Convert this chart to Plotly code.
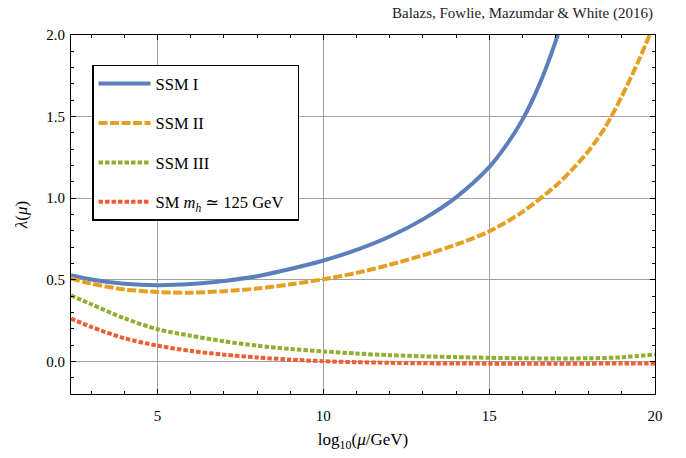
import plotly.graph_objects as go

# ---- data ----
ssm1_x = [2.39, 3, 4, 5, 6, 7, 8, 9, 10, 11, 12, 13, 14, 15, 15.5, 16, 16.5, 17, 17.5]
ssm1_y = [0.528, 0.502, 0.476, 0.467, 0.474, 0.493, 0.522, 0.566, 0.618, 0.683, 0.765, 0.87, 1.005, 1.19, 1.32, 1.48, 1.69, 1.96, 2.3]

ssm2_x = [2.39, 3, 4, 5, 6, 7, 8, 9, 10, 11, 12, 13, 14, 15, 16, 17, 17.5, 18, 18.5, 19, 19.5, 20]
ssm2_y = [0.508, 0.476, 0.441, 0.425, 0.421, 0.43, 0.446, 0.472, 0.503, 0.542, 0.592, 0.65, 0.715, 0.797, 0.915, 1.075, 1.175, 1.29, 1.435, 1.625, 1.84, 2.08]

ssm3_x = [2.39, 3, 4, 5, 6, 7, 8, 9, 10, 11, 12, 13, 14, 15, 16, 17, 18, 19, 20]
ssm3_y = [0.404, 0.35, 0.264, 0.197, 0.157, 0.123, 0.096, 0.076, 0.061, 0.048, 0.038, 0.031, 0.026, 0.022, 0.019, 0.018, 0.019, 0.025, 0.042]

sm_x = [2.39, 3, 4, 5, 6, 7, 8, 9, 10, 11, 12, 13, 14, 15, 16, 17, 18, 19, 20]
sm_y = [0.262, 0.211, 0.142, 0.096, 0.064, 0.041, 0.024, 0.011, 0.001, -0.005, -0.009, -0.012, -0.013, -0.014, -0.014, -0.014, -0.014, -0.013, -0.013]

series_names = ["SSM I", "SSM II", "SSM III", "SM <i>m<sub>h</sub></i> ≃ 125 GeV&nbsp;&nbsp;"]
x_ticks = [5, 10, 15, 20]
y_ticks = [0.0, 0.5, 1.0, 1.5, 2.0]
y_ticklabels = ["0.0", "0.5", "1.0", "1.5", "2.0"]

# ---- styling ----
colors = ["#5b7fbc", "#e5a024", "#8db032", "#ee5f36"]
dashes = ["solid", "9px,2.5px", "4.5px,2px", "4.5px,2px"]
FONT = "Liberation Serif, Times New Roman, DejaVu Serif, serif"

fig = go.Figure()
for i, (xs, ys) in enumerate([(ssm1_x, ssm1_y), (ssm2_x, ssm2_y), (ssm3_x, ssm3_y), (sm_x, sm_y)]):
    fig.add_trace(go.Scatter(
        x=xs, y=ys, mode="lines", name=series_names[i], legendgroup=str(i),
        line=dict(color=colors[i], width=4, dash=dashes[i], shape="spline", smoothing=0.8),
    ))

axis_common = dict(
    showline=True, linecolor="black", linewidth=1.2, mirror="allticks",
    ticks="inside", ticklen=5, tickcolor="black", tickwidth=1,
    showgrid=True, gridcolor="#a0a0a0", gridwidth=1, zeroline=False,
    tickfont=dict(family=FONT, size=15, color="black"),
)

fig.update_xaxes(
    range=[2.39, 20], tickvals=x_ticks, ticktext=[str(v) for v in x_ticks],
    minor=dict(dtick=1, tick0=0, ticks="inside", ticklen=3, tickcolor="black", showgrid=False),
    title=dict(text="log<sub>10</sub>(<i>μ</i>/GeV)", font=dict(family=FONT, size=17, color="black"), standoff=10),
    ticklabelstandoff=8,
    **axis_common,
)
fig.update_yaxes(
    range=[-0.2, 2.0], tickvals=y_ticks, ticktext=y_ticklabels,
    minor=dict(dtick=0.1, tick0=0, ticks="inside", ticklen=3, tickcolor="black", showgrid=False),
    title=dict(text="<i>λ</i>(<i>μ</i>)", font=dict(family=FONT, size=17, color="black"), standoff=14),
    ticklabelstandoff=2,
    **axis_common,
)

fig.add_annotation(
    text="Balazs, Fowlie, Mazumdar &amp; White (2016)", xref="paper", yref="paper",
    x=1.0, y=1.06, xanchor="right", yanchor="middle", showarrow=False,
    font=dict(family=FONT, size=15, color="#222222"),
)

fig.update_layout(
    width=686, height=458,
    margin=dict(l=71, r=31, t=35, b=61),
    paper_bgcolor="white", plot_bgcolor="white",
    showlegend=True,
    legend=dict(
        x=0.036, y=0.917, xanchor="left", yanchor="top",
        bgcolor="white", bordercolor="black", borderwidth=1.5,
        font=dict(family=FONT, size=16.5, color="black"),
        tracegroupgap=15, itemwidth=52,
        traceorder="grouped",
    ),
)

fig.write_html("out.html")
